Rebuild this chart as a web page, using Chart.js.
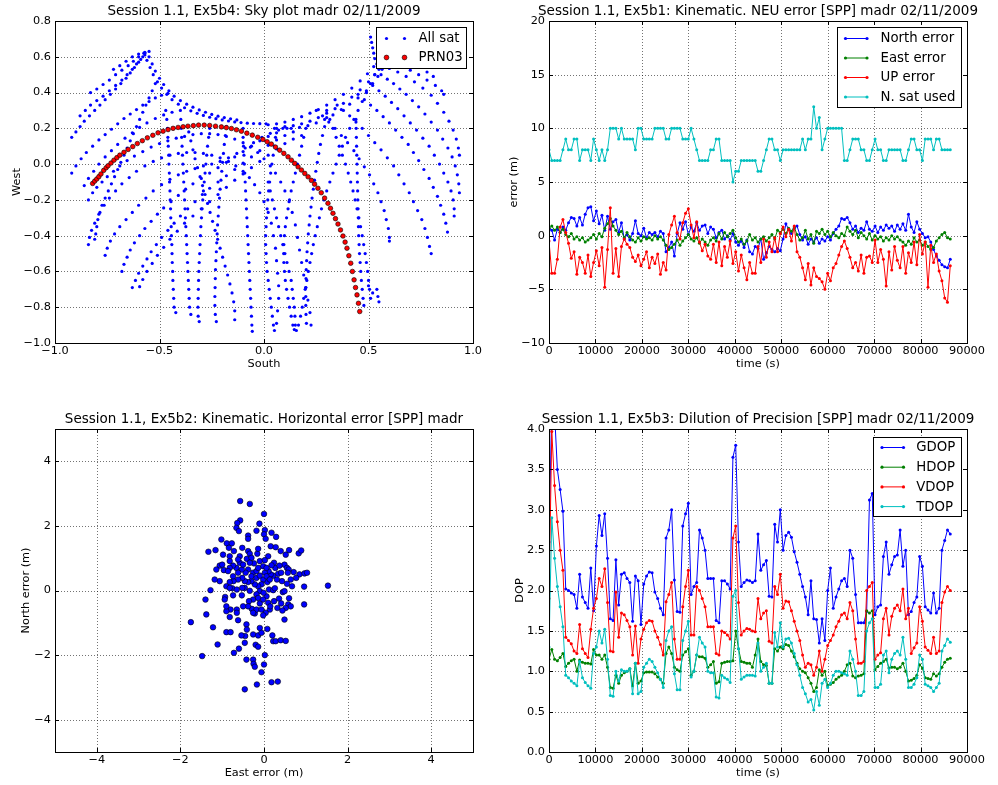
<!DOCTYPE html>
<html>
<head>
<meta charset="utf-8">
<script src="https://cdn.jsdelivr.net/npm/chart.js@4.4.1/dist/chart.umd.min.js"></script>
<style>
html, body { margin: 0; padding: 0; background: #fff; }
body { width: 998px; height: 785px; position: relative; overflow: hidden; }
canvas { position: absolute; }
</style>
</head>
<body>
<canvas id="sky" width="499" height="392" style="left:0;top:0"></canvas>
<canvas id="neu" width="499" height="392" style="left:499px;top:0"></canvas>
<canvas id="hor" width="499" height="393" style="left:0;top:392px"></canvas>
<canvas id="dop" width="499" height="393" style="left:499px;top:392px"></canvas>
<script>
// ---- tick values ----
const skyXTicks = [-1.0, -0.5, 0.0, 0.5, 1.0];
const skyYTicks = [-1.0, -0.8, -0.6, -0.4, -0.2, 0.0, 0.2, 0.4, 0.6, 0.8];
const timeTicks = [0, 10000, 20000, 30000, 40000, 50000, 60000, 70000, 80000, 90000];
const neuYTicks = [-10, -5, 0, 5, 10, 15, 20];
const horTicks = [-4, -2, 0, 2, 4];
const dopYTicks = [0.0, 0.5, 1.0, 1.5, 2.0, 2.5, 3.0, 3.5, 4.0];

// ---- sky plot: one list of [south, west] per satellite pass ----
const skyTracks = [
  [[-0.92,0.15],[-0.9,0.18],[-0.88,0.21],[-0.86,0.24],[-0.835,0.27],[-0.81,0.3],[-0.785,0.33],[-0.76,0.36],[-0.735,0.39],[-0.71,0.42],[-0.685,0.45],[-0.66,0.48],[-0.64,0.51],[-0.62,0.54],[-0.6,0.57],[-0.58,0.6]],
  [[-0.88,0.27],[-0.855,0.3],[-0.83,0.33],[-0.8,0.355],[-0.77,0.38],[-0.74,0.41],[-0.71,0.44],[-0.68,0.47],[-0.655,0.5],[-0.63,0.53],[-0.61,0.56],[-0.59,0.585],[-0.57,0.61]],
  [[-0.83,0.4],[-0.8,0.42],[-0.77,0.445],[-0.74,0.47],[-0.71,0.5],[-0.68,0.525],[-0.65,0.55],[-0.625,0.575],[-0.6,0.6],[-0.575,0.62]],
  [[-0.72,0.53],[-0.69,0.55],[-0.66,0.575],[-0.63,0.6],[-0.6,0.615],[-0.57,0.625],[-0.55,0.63]],
  [[-0.92,-0.05],[-0.9,-0.01],[-0.875,0.03],[-0.85,0.065],[-0.82,0.1],[-0.79,0.135],[-0.76,0.165],[-0.73,0.195],[-0.7,0.225],[-0.67,0.255],[-0.64,0.28],[-0.61,0.305],[-0.58,0.33],[-0.55,0.35],[-0.52,0.37],[-0.49,0.385],[-0.46,0.395]],
  [[-0.86,-0.12],[-0.84,-0.08],[-0.815,-0.04],[-0.79,0.0],[-0.76,0.04],[-0.73,0.075],[-0.7,0.11],[-0.665,0.145],[-0.63,0.175],[-0.595,0.205],[-0.56,0.23],[-0.52,0.255],[-0.48,0.275],[-0.44,0.29]],
  [[-0.84,-0.2],[-0.82,-0.16],[-0.8,-0.13],[-0.775,-0.1],[-0.75,-0.07],[-0.72,-0.04],[-0.69,-0.01],[-0.655,0.02],[-0.62,0.045],[-0.58,0.07],[-0.54,0.095],[-0.5,0.115],[-0.46,0.13],[-0.42,0.145],[-0.38,0.155],[-0.34,0.165],[-0.3,0.17],[-0.26,0.17],[-0.22,0.165],[-0.18,0.155],[-0.14,0.14],[-0.1,0.12],[-0.065,0.095],[-0.03,0.065],[0.0,0.03],[0.03,-0.01],[0.055,-0.05],[0.08,-0.1],[0.1,-0.15],[0.12,-0.21],[0.135,-0.27],[0.15,-0.34],[0.16,-0.41],[0.17,-0.48],[0.18,-0.55],[0.19,-0.62],[0.2,-0.69],[0.21,-0.76],[0.22,-0.83],[0.225,-0.9]],
  [[-0.84,-0.45],[-0.835,-0.41],[-0.825,-0.37],[-0.81,-0.33],[-0.79,-0.28],[-0.765,-0.23],[-0.74,-0.19],[-0.71,-0.15],[-0.68,-0.11],[-0.645,-0.075],[-0.61,-0.04],[-0.57,-0.01],[-0.53,0.015],[-0.49,0.035],[-0.45,0.05],[-0.41,0.06],[-0.37,0.065],[-0.33,0.065],[-0.29,0.06],[-0.25,0.05],[-0.21,0.035],[-0.17,0.015],[-0.135,-0.01],[-0.1,-0.04],[-0.07,-0.075],[-0.045,-0.115],[-0.02,-0.16],[0.0,-0.21],[0.02,-0.27],[0.035,-0.33],[0.045,-0.4],[0.055,-0.47],[0.06,-0.54],[0.065,-0.61],[0.07,-0.68],[0.07,-0.75],[0.065,-0.82],[0.06,-0.89]],
  [[-0.76,-0.51],[-0.75,-0.47],[-0.735,-0.43],[-0.715,-0.39],[-0.69,-0.35],[-0.66,-0.31],[-0.63,-0.27],[-0.6,-0.23],[-0.565,-0.19],[-0.53,-0.15],[-0.49,-0.115],[-0.45,-0.085],[-0.41,-0.06],[-0.37,-0.04],[-0.33,-0.025],[-0.29,-0.01],[-0.25,0.0],[-0.21,0.015],[-0.17,0.035],[-0.13,0.06],[-0.09,0.09],[-0.05,0.12],[-0.01,0.15],[0.03,0.172],[0.07,0.19],[0.11,0.2]],
  [[-0.68,-0.6],[-0.67,-0.56],[-0.655,-0.52],[-0.64,-0.48],[-0.62,-0.44],[-0.595,-0.4],[-0.57,-0.36],[-0.54,-0.32],[-0.51,-0.28],[-0.48,-0.245],[-0.445,-0.21],[-0.41,-0.175],[-0.375,-0.14],[-0.34,-0.11],[-0.3,-0.08],[-0.26,-0.05],[-0.22,-0.02],[-0.18,0.01],[-0.14,0.04],[-0.1,0.07],[-0.06,0.1],[-0.02,0.13],[0.02,0.155],[0.06,0.175]],
  [[-0.63,-0.69],[-0.615,-0.65],[-0.6,-0.61],[-0.58,-0.57],[-0.56,-0.53],[-0.54,-0.49],[-0.515,-0.45],[-0.49,-0.41],[-0.46,-0.37],[-0.43,-0.33],[-0.4,-0.29],[-0.365,-0.25],[-0.33,-0.21],[-0.295,-0.17],[-0.26,-0.135],[-0.22,-0.1],[-0.18,-0.065],[-0.14,-0.03],[-0.1,0.005],[-0.06,0.04],[-0.02,0.075],[0.02,0.105],[0.06,0.135],[0.1,0.16],[0.14,0.18]],
  [[-0.595,-0.685],[-0.58,-0.645],[-0.56,-0.6],[-0.535,-0.555],[-0.51,-0.51],[-0.48,-0.465],[-0.45,-0.42],[-0.415,-0.375],[-0.38,-0.33],[-0.34,-0.29],[-0.3,-0.25],[-0.26,-0.21],[-0.22,-0.17],[-0.18,-0.13],[-0.14,-0.09],[-0.1,-0.055],[-0.06,-0.02],[-0.02,0.015],[0.02,0.05],[0.06,0.085],[0.1,0.115],[0.14,0.14],[0.18,0.16]],
  [[-0.52,0.45],[-0.535,0.41],[-0.55,0.37],[-0.565,0.33],[-0.58,0.29],[-0.595,0.25],[-0.61,0.21],[-0.625,0.17],[-0.64,0.13],[-0.655,0.09],[-0.67,0.05],[-0.685,0.01],[-0.7,-0.03],[-0.715,-0.07],[-0.73,-0.11],[-0.745,-0.15],[-0.76,-0.19],[-0.775,-0.23],[-0.785,-0.27],[-0.795,-0.31],[-0.8,-0.35],[-0.805,-0.39],[-0.81,-0.42]],
  [[-0.47,0.3],[-0.465,0.25],[-0.462,0.2],[-0.46,0.15],[-0.458,0.1],[-0.456,0.05],[-0.455,0.0],[-0.453,-0.05],[-0.452,-0.1],[-0.45,-0.15],[-0.449,-0.2],[-0.447,-0.25],[-0.446,-0.3],[-0.444,-0.35],[-0.443,-0.4],[-0.441,-0.45],[-0.44,-0.5],[-0.439,-0.55],[-0.437,-0.6],[-0.436,-0.65],[-0.434,-0.7],[-0.432,-0.75],[-0.43,-0.8],[-0.422,-0.83]],
  [[-0.4,0.3],[-0.398,0.25],[-0.396,0.2],[-0.394,0.15],[-0.392,0.1],[-0.39,0.05],[-0.388,0.0],[-0.386,-0.05],[-0.384,-0.1],[-0.382,-0.15],[-0.38,-0.2],[-0.378,-0.25],[-0.376,-0.3],[-0.374,-0.35],[-0.372,-0.4],[-0.37,-0.45],[-0.368,-0.5],[-0.366,-0.55],[-0.364,-0.6],[-0.362,-0.65],[-0.36,-0.7],[-0.358,-0.75],[-0.356,-0.8],[-0.35,-0.84]],
  [[-0.26,0.2],[-0.265,0.15],[-0.27,0.1],[-0.274,0.05],[-0.278,0.0],[-0.282,-0.05],[-0.286,-0.1],[-0.29,-0.15],[-0.293,-0.2],[-0.296,-0.25],[-0.299,-0.3],[-0.302,-0.35],[-0.304,-0.4],[-0.306,-0.45],[-0.308,-0.5],[-0.31,-0.55],[-0.312,-0.6],[-0.313,-0.65],[-0.314,-0.7],[-0.315,-0.75],[-0.316,-0.8],[-0.315,-0.85],[-0.31,-0.88]],
  [[-0.18,0.21],[-0.185,0.16],[-0.19,0.11],[-0.194,0.06],[-0.198,0.01],[-0.202,-0.04],[-0.206,-0.09],[-0.21,-0.14],[-0.213,-0.19],[-0.216,-0.24],[-0.219,-0.29],[-0.222,-0.34],[-0.224,-0.39],[-0.226,-0.44],[-0.228,-0.49],[-0.23,-0.54],[-0.232,-0.59],[-0.233,-0.64],[-0.234,-0.69],[-0.235,-0.74],[-0.235,-0.79],[-0.233,-0.84],[-0.228,-0.88]],
  [[-0.36,0.18],[-0.35,0.13],[-0.34,0.08],[-0.33,0.03],[-0.318,-0.02],[-0.306,-0.07],[-0.294,-0.12],[-0.282,-0.17],[-0.27,-0.22],[-0.258,-0.27],[-0.246,-0.32],[-0.234,-0.37],[-0.222,-0.42],[-0.21,-0.47],[-0.198,-0.52],[-0.186,-0.57],[-0.174,-0.62],[-0.163,-0.67],[-0.153,-0.72],[-0.145,-0.77],[-0.14,-0.82],[-0.14,-0.87]],
  [[-0.1,0.2],[-0.1,0.15],[-0.098,0.1],[-0.096,0.05],[-0.094,0.0],[-0.092,-0.05],[-0.09,-0.1],[-0.088,-0.15],[-0.086,-0.2],[-0.084,-0.25],[-0.082,-0.3],[-0.08,-0.35],[-0.078,-0.4],[-0.076,-0.45],[-0.074,-0.5],[-0.072,-0.55],[-0.07,-0.6],[-0.068,-0.65],[-0.066,-0.7],[-0.064,-0.75],[-0.062,-0.8],[-0.06,-0.85],[-0.058,-0.9],[-0.056,-0.935]],
  [[0.06,0.2],[0.055,0.15],[0.05,0.1],[0.044,0.05],[0.038,0.0],[0.032,-0.05],[0.027,-0.1],[0.022,-0.15],[0.018,-0.2],[0.015,-0.25],[0.012,-0.3],[0.01,-0.35],[0.008,-0.4],[0.008,-0.45],[0.01,-0.5],[0.012,-0.55],[0.015,-0.6],[0.02,-0.65],[0.025,-0.7],[0.03,-0.75],[0.035,-0.8],[0.04,-0.85],[0.045,-0.9],[0.05,-0.93]],
  [[0.02,-0.1],[0.03,-0.15],[0.04,-0.2],[0.05,-0.25],[0.06,-0.3],[0.07,-0.35],[0.08,-0.4],[0.09,-0.45],[0.1,-0.5],[0.11,-0.55],[0.12,-0.6],[0.13,-0.65],[0.135,-0.7],[0.14,-0.75],[0.145,-0.8],[0.148,-0.85],[0.15,-0.9],[0.155,-0.93],[0.165,-0.9],[0.175,-0.85],[0.183,-0.8],[0.19,-0.75],[0.197,-0.7],[0.205,-0.65],[0.212,-0.6],[0.22,-0.55],[0.228,-0.5],[0.236,-0.45],[0.245,-0.4],[0.255,-0.35],[0.265,-0.3],[0.275,-0.25],[0.287,-0.2],[0.3,-0.15],[0.315,-0.1],[0.33,-0.05],[0.345,0.0],[0.36,0.05],[0.375,0.1],[0.39,0.15],[0.41,0.2],[0.43,0.25],[0.45,0.3],[0.47,0.35],[0.49,0.4],[0.51,0.45],[0.53,0.5],[0.55,0.55],[0.57,0.58]],
  [[0.2,0.2],[0.19,0.15],[0.18,0.1],[0.17,0.05],[0.16,0.0],[0.15,-0.05],[0.14,-0.1],[0.13,-0.15],[0.122,-0.2],[0.115,-0.25],[0.108,-0.3],[0.102,-0.35],[0.098,-0.4],[0.095,-0.45],[0.094,-0.5],[0.095,-0.55],[0.098,-0.6],[0.102,-0.65],[0.108,-0.7],[0.115,-0.75],[0.122,-0.8],[0.13,-0.85],[0.138,-0.9],[0.145,-0.925]],
  [[0.3,0.26],[0.29,0.21],[0.28,0.16],[0.27,0.11],[0.262,0.06],[0.255,0.01],[0.248,-0.04],[0.242,-0.09],[0.236,-0.14],[0.23,-0.19],[0.225,-0.24],[0.22,-0.29],[0.216,-0.34],[0.212,-0.39],[0.209,-0.44],[0.206,-0.49],[0.204,-0.54],[0.202,-0.59],[0.201,-0.64],[0.2,-0.69],[0.2,-0.74],[0.2,-0.79],[0.201,-0.84],[0.203,-0.89]],
  [[0.44,0.25],[0.441,0.2],[0.442,0.15],[0.443,0.1],[0.444,0.05],[0.445,0.0],[0.446,-0.05],[0.447,-0.1],[0.448,-0.15],[0.449,-0.2],[0.45,-0.25],[0.451,-0.3],[0.452,-0.35],[0.453,-0.4],[0.455,-0.45],[0.457,-0.5],[0.46,-0.55],[0.463,-0.6],[0.466,-0.65],[0.47,-0.7],[0.474,-0.75],[0.478,-0.79]],
  [[0.3,0.3],[0.315,0.25],[0.33,0.2],[0.345,0.15],[0.36,0.1],[0.375,0.05],[0.39,0.0],[0.403,-0.05],[0.415,-0.1],[0.426,-0.15],[0.436,-0.2],[0.445,-0.25],[0.454,-0.3],[0.462,-0.35],[0.47,-0.4],[0.477,-0.45],[0.484,-0.5],[0.49,-0.55],[0.496,-0.6],[0.5,-0.65],[0.505,-0.7],[0.51,-0.75]],
  [[0.5,-0.68],[0.52,-0.72],[0.54,-0.7],[0.545,-0.74],[0.55,-0.77]],
  [[0.25,0.3],[0.28,0.27],[0.31,0.235],[0.34,0.2],[0.37,0.16],[0.4,0.12],[0.43,0.075],[0.455,0.03],[0.48,-0.015],[0.505,-0.06],[0.525,-0.11],[0.545,-0.16],[0.56,-0.21],[0.575,-0.26],[0.585,-0.31],[0.595,-0.36],[0.6,-0.41],[0.6,-0.43]],
  [[0.35,0.33],[0.38,0.3],[0.41,0.27],[0.44,0.235],[0.47,0.2],[0.5,0.16],[0.53,0.12],[0.56,0.08],[0.59,0.035],[0.62,-0.01],[0.645,-0.06],[0.67,-0.11],[0.695,-0.16],[0.715,-0.21],[0.735,-0.26],[0.755,-0.31],[0.77,-0.36],[0.782,-0.41],[0.792,-0.46],[0.8,-0.5]],
  [[0.45,0.39],[0.48,0.36],[0.51,0.33],[0.54,0.3],[0.57,0.265],[0.6,0.23],[0.63,0.19],[0.66,0.15],[0.69,0.11],[0.715,0.065],[0.74,0.02],[0.765,-0.03],[0.79,-0.08],[0.81,-0.13],[0.83,-0.18],[0.845,-0.23],[0.86,-0.28],[0.87,-0.33],[0.878,-0.38]],
  [[0.52,0.44],[0.55,0.41],[0.58,0.38],[0.61,0.345],[0.64,0.31],[0.67,0.27],[0.7,0.23],[0.73,0.19],[0.76,0.145],[0.79,0.1],[0.815,0.05],[0.84,0.0],[0.86,-0.05],[0.88,-0.1],[0.895,-0.15],[0.905,-0.2],[0.91,-0.25],[0.91,-0.29]],
  [[0.56,0.5],[0.59,0.475],[0.62,0.45],[0.65,0.42],[0.68,0.39],[0.71,0.355],[0.74,0.32],[0.77,0.28],[0.8,0.235],[0.83,0.19],[0.855,0.14],[0.88,0.09],[0.9,0.04],[0.915,-0.01],[0.925,-0.06],[0.932,-0.11],[0.935,-0.16]],
  [[0.57,0.55],[0.6,0.535],[0.64,0.515],[0.68,0.49],[0.72,0.46],[0.76,0.425],[0.8,0.385],[0.83,0.34],[0.86,0.29],[0.885,0.24],[0.905,0.19],[0.92,0.14],[0.93,0.09],[0.935,0.05]],
  [[0.58,0.57],[0.62,0.56],[0.66,0.545],[0.7,0.525],[0.74,0.5],[0.78,0.47],[0.82,0.44],[0.85,0.41],[0.86,0.39]],
  [[0.58,0.6],[0.62,0.59],[0.66,0.575],[0.7,0.56],[0.74,0.54],[0.78,0.515],[0.81,0.49]],
  [[0.51,0.71],[0.515,0.68],[0.52,0.65],[0.525,0.62],[0.53,0.59],[0.54,0.56],[0.55,0.53]],
  [[0.1,0.21],[0.14,0.215],[0.18,0.225],[0.22,0.24],[0.26,0.26],[0.3,0.285],[0.34,0.31],[0.38,0.34],[0.42,0.375],[0.46,0.415],[0.5,0.46],[0.53,0.5],[0.555,0.54],[0.575,0.58],[0.59,0.62]],
  [[0.02,0.22],[0.06,0.225],[0.1,0.235],[0.14,0.25],[0.18,0.265],[0.22,0.285],[0.26,0.305],[0.3,0.33],[0.34,0.36],[0.38,0.39],[0.42,0.425],[0.46,0.465],[0.495,0.505],[0.525,0.545],[0.55,0.585]],
  [[0.05,0.2],[0.09,0.2],[0.13,0.2],[0.17,0.205],[0.21,0.215],[0.25,0.23],[0.29,0.25],[0.33,0.275],[0.37,0.305],[0.41,0.335],[0.45,0.37],[0.49,0.41],[0.52,0.45],[0.545,0.49],[0.565,0.53]],
  [[-0.57,0.62],[-0.56,0.58],[-0.545,0.54],[-0.53,0.5],[-0.51,0.46],[-0.49,0.425],[-0.465,0.39],[-0.44,0.36],[-0.41,0.335],[-0.38,0.315],[-0.35,0.298],[-0.32,0.284],[-0.29,0.272],[-0.26,0.262],[-0.23,0.254],[-0.2,0.247],[-0.17,0.241],[-0.14,0.236],[-0.11,0.232],[-0.08,0.229],[-0.05,0.227],[-0.02,0.226],[0.01,0.225]],
  [[-0.55,0.6],[-0.535,0.56],[-0.52,0.52],[-0.5,0.48],[-0.48,0.445],[-0.455,0.41],[-0.43,0.38],[-0.4,0.355],[-0.37,0.335],[-0.34,0.318],[-0.31,0.303],[-0.28,0.29],[-0.25,0.278],[-0.22,0.268],[-0.19,0.26],[-0.16,0.253],[-0.13,0.247]]
];

const prn03Track = [
  [-0.82,-0.108],[-0.81,-0.095],[-0.8,-0.083],[-0.79,-0.07],[-0.78,-0.055],[-0.767,-0.035],[-0.755,-0.02],[-0.746,-0.009],
  [-0.732,0.006],[-0.718,0.022],[-0.704,0.036],[-0.69,0.05],[-0.67,0.066],[-0.65,0.082],[-0.628,0.098],[-0.606,0.115],
  [-0.582,0.131],[-0.558,0.147],[-0.532,0.161],[-0.507,0.175],[-0.483,0.184],[-0.459,0.193],[-0.435,0.2],[-0.411,0.205],
  [-0.387,0.209],[-0.364,0.212],[-0.338,0.215],[-0.313,0.218],[-0.286,0.218],[-0.26,0.216],[-0.232,0.212],[-0.204,0.208],
  [-0.18,0.204],[-0.156,0.199],[-0.132,0.192],[-0.108,0.184],[-0.082,0.173],[-0.056,0.162],[-0.03,0.15],[-0.005,0.138],
  [0.015,0.125],[0.035,0.112],[0.055,0.095],[0.075,0.078],[0.095,0.06],[0.115,0.041],[0.131,0.022],[0.147,0.004],
  [0.163,-0.015],[0.179,-0.033],[0.195,-0.052],[0.211,-0.071],[0.227,-0.091],[0.242,-0.112],[0.258,-0.135],[0.274,-0.16],
  [0.29,-0.19],[0.306,-0.219],[0.318,-0.247],[0.33,-0.275],[0.342,-0.305],[0.354,-0.335],[0.366,-0.368],[0.378,-0.402],
  [0.388,-0.436],[0.397,-0.47],[0.406,-0.512],[0.415,-0.554],[0.423,-0.6],[0.431,-0.647],[0.438,-0.69],[0.445,-0.731],
  [0.452,-0.778],[0.458,-0.824]
];

// ---- NEU error, one sample every 600 s ----
const epochStep = 600;
const northErr = [
  0.7, 0.5, -0.4, 0.6, 0.3, 0.8, 0.5, 1.2, 1.7, 1.6,
  0.9, 1.7, 1.0, 2.0, 2.6, 2.7, 1.4, 2.3, 1.1, 1.9,
  0.5, 1.8, 0.6, 1.3, 1.5, 0.3, 1.2, -0.3, 0.1, -0.4,
  0.2, 1.4, 0.2, 0.0, 0.7, -0.2, 0.3, 0.1, 0.3, -0.1,
  0.4, 0.2, -1.5, -1.1, -0.6, -1.9, 0.2, 1.2, 0.6, 1.3,
  0.1, 0.8, 0.4, 1.2, 0.5, 0.9, 1.0, 0.2, 0.8, 0.6,
  -0.2, 0.3, 0.5, -0.3, 0.0, -0.4, 0.2, -0.6, -0.9, -0.5,
  -1.1, -0.4, -1.5, -1.7, -1.0, -1.2, -0.3, -2.2, -1.6, -1.0,
  -1.3, -1.5, -1.2, -1.4, -0.3, 1.1, 0.6, 0.2, 0.7, 0.9,
  0.1, -0.4, -0.1, -0.8, -0.3, -0.6, -0.2, -0.7, -0.3, -0.5,
  -0.1, -0.4, 0.2, 0.6, 0.9, 1.6, 1.5, 1.7, 1.2, 0.6,
  0.9, 0.3, 0.7, 0.5, 1.3, 0.6, 0.4, 0.9, 0.3, 0.8,
  0.5, 1.0, 0.7, 0.9, 0.4, 1.0, 0.6, 1.1, 0.5, 2.0,
  0.8, 0.3, 1.3, 0.6, 0.2, -0.2, -0.1, -0.6, -1.3, -1.9,
  -2.3, -2.7, -2.9, -3.0, -2.2
];
const eastErr = [
  0.7, 0.9, 0.5, 0.8, 0.3, 0.6, 0.1, -0.1, 0.2, -0.3,
  -0.1, -0.4, -0.2, -0.6, -0.4, -0.2, 0.1, -0.3, 0.2, -0.1,
  0.7, 1.1, 1.6, 0.9, 0.5, 0.1, 0.4, -0.2, 0.3, -0.1,
  -0.4, -0.6, -0.2, -0.5, -0.1, -0.3, -0.2, -0.4, 0.0, -0.3,
  -0.1, -0.4, -0.9, -1.3, -1.1, -0.8, -0.4, -0.9, -0.5, -0.2,
  0.1, -0.3, -0.5, -0.2, -0.7, -0.3, -0.6, -0.9, -0.4, -0.2,
  -0.5, 0.2, -0.3, 0.3, -0.1, 0.2, 0.5, -0.2, -0.6, -0.3,
  -0.8, -0.5, 0.1, -0.4, -0.2, -0.6, -0.3, -0.1, -0.5, -0.2,
  0.1, -0.3, 0.5, 0.3, 0.6, 0.2, 0.7, 0.4, 0.8, 0.1,
  -0.4, -0.2, 0.5, -0.3, 0.1, -0.7, 0.4, 0.2, 0.6, 0.1,
  0.4, -0.1, 0.3, 0.0, -0.2, 0.2, 0.0, 0.8, 0.4, 0.1,
  0.5, -0.2, 0.3, 0.0, -0.3, 0.2, -0.4, 0.0, -0.3, -0.1,
  -0.5, -0.2, -0.4, 0.0, -0.3, -0.1, -0.4, -0.6, -0.9, -0.5,
  -0.8, -0.2, -0.6, -0.4, -0.9, -0.6, -1.0, -1.3, -1.1, -0.5,
  -0.2, 0.1, 0.3, -0.2, -0.3
];
const upErr = [
  -0.5, -3.5, -3.5, -2.2, 0.8, 1.5, 0.3, -0.7, -2.1, -1.5,
  -3.6, -2.0, -2.5, -3.5, -1.8, -3.8, -2.5, -1.4, -2.8, -1.1,
  -4.8, -1.3, 2.6, -3.5, -1.2, -3.8, -1.0, -0.3, -0.8, -1.1,
  -2.0, -2.4, -1.8, -2.8, -2.2, -1.5, -3.0, -2.0, -2.6, -1.7,
  -3.6, -2.5, -3.2, 0.1, 1.0, 1.8, 0.3, -0.3, 1.2, 2.1,
  2.5, 1.0, -0.2, 1.3, -0.6, -1.4, -0.8, -1.9, -2.2, -0.8,
  -2.5, -0.6, -2.8, -1.0, -2.0, -0.5, -2.6, -1.5, -3.3, -1.8,
  -3.0, -4.1, -2.5, -3.5, -3.5, -1.0, -2.5, -0.3, -2.0, -0.6,
  -1.5, -0.2, -1.5, 0.2, 0.8, -0.1, 0.6, -0.5, 0.9, -1.5,
  -2.0, -3.0, -4.1, -2.6, -4.6, -3.0, -3.8, -4.0, -4.3, -5.0,
  -3.5, -4.2, -3.0, -2.6, -1.8, -1.0, -0.5, -1.2, -2.0, -3.0,
  -2.5, -3.3, -1.8, -3.5, -2.0, -1.9, -2.5, -0.4, -2.5, -1.3,
  -2.2, -4.7, -1.5, -3.2, -1.0, -2.3, -3.0, -1.0, -3.5, -1.6,
  -2.5, -0.6, -2.7, 0.1, -1.7, -0.6, -4.8, -0.9, -2.5, -1.7,
  -3.3, -4.2, -5.8, -6.2, -2.8
];
const satsUsed = [
  8, 7, 7, 7, 7, 8, 9, 8, 8, 9,
  9, 7, 8, 8, 8, 7, 9, 8, 7, 8,
  7, 8, 10, 10, 10, 9, 10, 9, 9, 9,
  9, 8, 10, 10, 9, 9, 9, 9, 10, 10,
  10, 10, 9, 9, 10, 10, 10, 10, 9, 9,
  9, 10, 9, 8, 7, 7, 7, 7, 8, 8,
  9, 9, 7, 7, 7, 7, 5, 6, 6, 7,
  7, 7, 7, 7, 7, 6, 6, 7, 8, 9,
  9, 8, 8, 7, 8, 8, 8, 8, 8, 8,
  8, 9, 8, 9, 9, 12, 10, 11, 8, 9,
  10, 10, 10, 10, 10, 10, 7, 7, 8, 9,
  9, 9, 8, 8, 7, 7, 8, 9, 8, 8,
  7, 7, 8, 8, 8, 8, 8, 7, 7, 8,
  9, 9, 8, 8, 7, 9, 9, 9, 8, 9,
  9, 8, 8, 8, 8
];

// ---- horizontal error scatter: [east, north] ----
const horizErrors = [
  [-0.57,2.77],[-0.34,2.68],[0.0,2.37],[-0.57,2.17],[-0.64,2.09],[-0.11,2.07],[-0.66,1.94],[-0.6,1.84],[-0.38,1.7],[-0.38,1.6],
  [-0.18,1.85],[0.02,1.87],[0.18,1.79],[0.29,1.66],[0.0,1.74],[0.04,1.6],[-1.02,1.58],[-0.89,1.46],[-0.77,1.46],[-0.84,1.32],
  [-1.33,1.2],[-1.16,1.25],[-0.98,1.11],[-0.82,1.06],[-0.58,1.06],[-0.38,1.22],[-0.34,1.14],[-0.16,1.14],[-0.14,1.29],[0.1,1.06],
  [0.16,1.37],[0.28,1.34],[0.4,1.22],[0.52,1.11],[0.6,1.25],[0.83,1.15],[0.89,1.24],[0.49,0.8],[0.55,0.7],[0.71,0.57],
  [0.85,0.5],[0.97,0.53],[1.03,0.55],[0.77,0.39],[0.64,0.34],[1.53,0.15],[0.96,0.12],[0.96,-0.43],[0.58,-0.43],[0.64,-0.49],
  [0.52,-0.54],[0.44,-0.62],[0.49,-0.9],[0.32,-0.54],[0.14,-0.59],[0.04,-0.69],[-0.02,-0.77],[-0.22,-0.71],[-0.1,-1.16],[0.08,-1.19],
  [0.2,-1.39],[0.22,-1.57],[0.28,-1.57],[0.4,-1.54],[0.52,-1.56],[-0.26,-1.36],[-0.14,-1.39],[-0.06,-1.31],[-0.42,-1.05],[-0.41,-1.21],
  [-0.45,-1.41],[-0.54,-1.39],[-0.46,-1.62],[-0.2,-1.68],[-0.14,-1.74],[-0.6,-1.8],[-0.72,-1.93],[0.02,-2.0],[-0.42,-2.14],[-0.26,-2.14],
  [-0.25,-2.27],[-0.22,-2.36],[0.0,-2.29],[-0.06,-2.53],[-0.17,-2.91],[0.18,-2.84],[0.33,-2.82],[-0.46,-3.06],[-1.48,-2.03],[-1.11,-1.67],
  [-0.9,-1.29],[-0.8,-1.29],[-1.22,-1.14],[-1.75,-0.98],[-1.38,-0.74],[-1.4,-0.28],[-1.28,0.01],[-0.82,-0.82],[-0.8,-0.59],[-0.9,-0.64],
  [-0.65,-0.59],[-0.62,-0.92],[-0.65,-0.69],[-0.9,-0.49],[-0.74,-0.15],[-0.93,-0.2],[-0.53,-0.15],[-0.46,0.08],[-0.34,-0.01],[-0.26,-0.28],
  [-0.36,-0.33],[-0.29,-0.57],[-0.18,-0.59],[-0.1,-0.4],[0.06,-0.18],[0.12,0.03],[0.22,0.01],[0.26,0.07],[0.24,-0.33],[0.36,-0.25],
  [0.45,-0.05],[0.49,-0.02],[0.6,-0.24],[0.43,0.29],[0.31,0.34],[0.22,0.46],[0.34,0.52],[0.41,0.55],[0.16,0.5],[0.11,0.6],
  [0.27,0.7],[0.24,0.86],[0.18,0.78],[0.37,0.77],[0.59,0.65],[0.67,0.13],[0.55,0.21],[0.57,0.55],[0.08,0.26],[0.02,0.55],
  [-0.02,0.34],[-0.06,0.19],[-0.14,0.13],[-0.1,-0.02],[-0.01,-0.07],[-0.18,-0.12],[-0.22,0.19],[-0.3,0.29],[-0.38,0.26],[-0.46,0.29],
  [-0.52,0.39],[-0.62,0.34],[-0.73,0.29],[-0.82,0.26],[-0.9,0.13],[-0.76,0.07],[-0.65,0.03],[-0.52,0.08],[-0.26,0.55],[-0.18,0.6],
  [-0.38,0.65],[-0.44,0.55],[-0.53,0.65],[-0.66,0.7],[-0.74,0.77],[-0.82,0.7],[-0.96,0.63],[-1.06,0.77],[-1.14,0.65],[-1.0,0.8],
  [-0.86,0.6],[-0.58,0.86],[-0.41,0.98],[-0.3,1.01],[-0.24,0.84],[-0.1,0.91],[0.02,0.94],[-0.02,0.75],[-0.14,0.7],[0.06,0.7],
  [-0.34,0.86],[-0.5,0.8],[-0.62,0.55],[-0.3,0.44],[-0.18,0.39],[-0.1,0.46],[0.06,0.44],[0.14,0.34],[-0.14,-0.23],[-0.02,-0.28],
  [0.1,-0.38],[-0.38,-0.49],[-0.5,-0.49],[-0.26,-0.69],[-0.06,-0.59],[0.15,-0.49],[0.41,-0.4],[-0.94,-0.28],[-0.82,0.08],[-1.06,0.29],
  [-1.18,0.34],[-0.74,0.44],[-0.82,0.91],[-0.62,0.96],[-0.72,1.22],[-0.52,1.32]
];

// ---- dilution of precision, one sample every 600 s ----
const gdop = [
  2.6, 4.3, 4.2, 3.5, 3.25, 2.98, 2.02, 2.0, 1.97, 1.95,
  1.78, 2.2, 1.92, 1.85, 1.78, 2.28, 1.75, 2.55, 2.93, 2.68,
  2.95, 2.4, 1.65, 1.63, 2.38, 1.82, 2.2, 2.22, 2.15, 2.1,
  1.62, 2.18, 2.12, 1.58, 2.08, 2.18, 2.23, 2.22, 1.98, 1.9,
  1.78, 1.7, 2.65, 2.75, 3.0, 2.13, 1.74, 1.73, 2.8, 2.95,
  3.08, 1.95, 2.05, 2.1, 2.75, 2.65, 2.5, 2.15, 2.15, 2.15,
  1.63, 1.6, 2.12, 2.12, 2.08, 2.02, 3.65, 3.8, 2.6, 2.05,
  2.1, 2.13, 2.12, 2.1, 2.12, 2.7, 2.25, 2.32, 2.37, 1.93,
  1.92, 2.82, 2.6, 3.0, 2.5, 2.68, 2.72, 2.66, 2.48, 2.35,
  2.2, 2.05, 1.92, 1.7, 2.12, 1.65, 1.64, 1.35, 1.65, 1.38,
  2.0, 2.28, 1.78, 1.92, 2.02, 2.12, 2.15, 2.05, 2.5, 2.4,
  1.95, 1.6, 1.6, 1.6, 1.74, 3.12, 3.2, 1.7, 1.8, 1.82,
  2.42, 2.6, 2.2, 2.32, 2.42, 2.44, 2.75, 2.3, 2.5, 1.7,
  1.74, 1.85, 1.92, 2.42, 2.3, 1.8, 1.76, 1.72, 1.97, 1.72,
  1.78, 2.5, 2.62, 2.75, 2.7
];
const hdop = [
  1.15, 1.27, 1.15, 1.13, 1.17, 1.22, 1.06, 1.1, 1.13, 1.15,
  1.0, 1.14, 1.11, 1.1, 1.1, 1.09, 1.27, 1.2, 1.2, 1.15,
  1.2, 1.05, 0.8, 0.79, 0.95, 0.85, 0.95, 0.98, 1.0, 1.03,
  0.82, 1.1, 0.85, 0.88, 0.98, 0.99, 0.99, 0.99, 0.97, 0.93,
  0.9, 0.85, 1.22, 1.3, 1.22, 1.05, 1.02, 1.0, 1.2, 1.24,
  1.28, 0.95, 1.0, 1.2, 1.18, 1.18, 1.16, 1.05, 1.08, 1.12,
  0.85, 0.87, 1.1, 1.11, 1.12, 1.12, 1.13, 1.5, 1.28, 1.12,
  1.11, 1.1, 1.1, 1.05, 1.2, 1.4, 1.12, 1.08, 1.07, 0.85,
  0.85, 1.28, 1.25, 1.3, 1.28, 1.33, 1.32, 1.25, 1.18, 1.1,
  1.03, 1.0, 0.98, 0.92, 0.85, 0.75, 0.8, 1.02, 0.95, 1.0,
  0.82, 0.84, 0.86, 0.9, 0.93, 0.95, 1.0, 1.08, 1.1, 0.94,
  0.92, 0.94, 0.95, 0.97, 1.75, 1.72, 1.75, 1.02, 1.06, 1.1,
  1.12, 1.15, 1.04, 1.05, 1.05, 1.03, 1.05, 1.1, 1.0, 0.88,
  0.89, 0.91, 0.95, 1.08, 1.04, 0.92, 0.91, 0.9, 0.97, 0.94,
  0.97, 1.05, 1.11, 1.15, 1.16
];
const vdop = [
  1.9, 3.97, 3.3, 2.85, 2.5, 2.25, 1.42, 1.38, 1.34, 1.25,
  1.22, 1.58, 1.28, 1.22, 1.17, 1.52, 1.78, 1.9, 2.15, 2.05,
  2.27, 1.85, 1.25, 1.24, 1.98, 1.42, 1.72, 1.7, 1.63, 1.55,
  1.2, 1.56, 1.1, 1.4, 1.52, 1.6, 1.63, 1.62, 1.5, 1.42,
  1.33, 1.2, 1.86, 1.95, 2.1, 1.4, 1.15, 1.15, 1.8, 2.05,
  2.25, 1.45, 1.45, 2.05, 2.0, 1.9, 1.8, 1.55, 1.55, 1.55,
  1.22, 1.2, 1.5, 1.48, 1.45, 1.4, 2.65, 2.8, 1.85, 1.45,
  1.5, 1.53, 1.52, 1.5, 1.49, 1.9, 1.65, 1.72, 1.75, 1.37,
  1.35, 2.05, 1.95, 2.2, 1.78, 1.87, 1.86, 1.75, 1.62, 1.5,
  1.38, 1.2, 1.05, 1.1, 1.08, 0.95, 1.05, 1.25, 1.0, 1.15,
  1.32, 1.38, 1.45, 1.55, 1.62, 1.7, 1.72, 1.65, 1.85, 1.75,
  1.4, 1.1, 1.1, 1.12, 2.0, 2.05, 2.1, 1.15, 1.2, 1.23,
  1.65, 1.78, 1.45, 1.68, 1.78, 1.82, 1.75, 2.02, 1.65, 1.78,
  1.22, 1.29, 1.35, 1.8, 1.62, 1.3, 1.26, 1.22, 1.42, 1.22,
  1.25, 1.85, 1.98, 2.05, 2.0
];
const tdop = [
  1.3, 2.9, 2.4, 2.05, 1.8, 1.55, 0.95, 0.92, 0.88, 0.85,
  0.82, 1.12, 0.92, 0.86, 0.82, 0.79, 1.22, 1.3, 1.5, 1.35,
  1.52, 1.15, 0.7, 0.69, 1.0, 0.88, 1.02, 1.0, 1.0, 1.03,
  0.72, 1.1, 0.72, 0.75, 1.05, 1.1, 1.15, 1.12, 1.05, 0.98,
  0.9, 0.8, 1.38, 1.5, 1.55, 0.97, 0.77, 0.77, 1.38, 1.5,
  1.62, 0.93, 1.0, 1.2, 1.42, 1.35, 1.3, 1.0, 0.98, 0.98,
  0.68, 0.67, 0.95, 0.92, 0.9, 0.86, 1.93, 2.0, 1.28, 0.9,
  0.93, 0.95, 0.95, 0.95, 0.94, 1.35, 1.0, 1.05, 1.1, 0.85,
  0.85, 1.48, 1.3, 1.6, 1.3, 1.4, 1.41, 1.35, 1.22, 1.08,
  0.95, 0.8, 0.72, 0.62, 0.65, 0.52, 0.75, 0.58, 0.85, 0.9,
  0.8, 0.85, 0.95, 1.0, 1.0, 0.98, 0.97, 0.95, 1.25, 1.15,
  1.0, 0.7, 0.7, 0.75, 1.5, 1.6, 1.65, 0.8, 0.8, 0.84,
  1.2, 1.25, 0.98, 1.15, 1.22, 1.25, 1.2, 1.42, 1.15, 0.8,
  0.8, 0.84, 0.92, 1.2, 1.15, 0.84, 0.82, 0.8, 0.75, 0.8,
  0.85, 1.25, 1.32, 1.4, 1.36
];

// ---------------------------------------------------------------
const FONT = '"DejaVu Sans", "Liberation Sans", sans-serif';
const BLUE = '#0000ff', GREEN = '#008000', RED = '#ff0000', CYAN = '#00bfbf';
const minus = s => s.replace('-', '\u2212');
const oneDecimal = v => v.toFixed(1);
const plain = v => String(v);
const times = northErr.map((_, i) => i * epochStep);
const series = (vals) => vals.map((v, i) => ({ x: times[i], y: v }));
const pairs = (list) => list.map(([x, y]) => ({ x, y }));

function decor(spec) {
  return {
    id: 'decor',
    beforeDatasetsDraw(chart) {
      const { ctx, chartArea: a, scales: { x, y } } = chart;
      ctx.save();
      ctx.strokeStyle = 'rgba(0,0,0,0.55)';
      ctx.lineWidth = 1;
      ctx.setLineDash([1, 2]);
      ctx.beginPath();
      spec.xTicks.forEach(v => {
        const px = Math.round(x.getPixelForValue(v)) + 0.5;
        if (px < a.left + 2 || px > a.right - 2) return;
        ctx.moveTo(px, a.top); ctx.lineTo(px, a.bottom);
      });
      spec.yTicks.forEach(v => {
        const py = Math.round(y.getPixelForValue(v)) + 0.5;
        if (py < a.top + 2 || py > a.bottom - 2) return;
        ctx.moveTo(a.left, py); ctx.lineTo(a.right, py);
      });
      ctx.stroke();
      ctx.restore();
    },
    afterDraw(chart) {
      const { ctx, chartArea: a, scales: { x, y } } = chart;
      ctx.save();
      ctx.strokeStyle = '#000';
      ctx.lineWidth = 1;
      // ticks pointing inwards on all four sides
      ctx.beginPath();
      spec.xTicks.forEach(v => {
        const px = Math.round(x.getPixelForValue(v)) + 0.5;
        ctx.moveTo(px, a.bottom); ctx.lineTo(px, a.bottom - 4);
        ctx.moveTo(px, a.top); ctx.lineTo(px, a.top + 4);
      });
      spec.yTicks.forEach(v => {
        const py = Math.round(y.getPixelForValue(v)) + 0.5;
        ctx.moveTo(a.left, py); ctx.lineTo(a.left + 4, py);
        ctx.moveTo(a.right, py); ctx.lineTo(a.right - 4, py);
      });
      ctx.stroke();
      ctx.strokeRect(a.left + 0.5, a.top + 0.5, a.right - a.left, a.bottom - a.top);

      ctx.fillStyle = '#000';
      ctx.font = `11.3px ${FONT}`;
      ctx.textAlign = 'center'; ctx.textBaseline = 'middle';
      spec.xTicks.forEach(v => ctx.fillText(minus(spec.xFmt(v)), x.getPixelForValue(v), a.bottom + 8.5));
      ctx.textAlign = 'right';
      spec.yTicks.forEach(v => ctx.fillText(minus(spec.yFmt(v)), a.left - 4, y.getPixelForValue(v)));

      ctx.textAlign = 'center';
      ctx.fillText(spec.xLabel, (a.left + a.right) / 2, a.bottom + 21);
      ctx.save();
      ctx.translate(a.left + spec.yLabelDx, (a.top + a.bottom) / 2);
      ctx.rotate(-Math.PI / 2);
      ctx.fillText(spec.yLabel, 0, 0);
      ctx.restore();

      ctx.font = `13.5px ${FONT}`;
      ctx.fillText(spec.title, (a.left + a.right) / 2, a.top - 10);

      if (spec.legend) drawLegend(ctx, a, spec.legend);
      ctx.restore();
    }
  };
}

function drawMarker(ctx, kind, color, px, py) {
  ctx.beginPath();
  if (kind === 'dot') {
    ctx.arc(px, py, 1.6, 0, Math.PI * 2);
    ctx.fillStyle = color; ctx.fill();
  } else {
    ctx.arc(px, py, 2.4, 0, Math.PI * 2);
    ctx.fillStyle = color; ctx.fill();
    ctx.lineWidth = 0.6; ctx.strokeStyle = '#000'; ctx.stroke();
  }
}

function drawLegend(ctx, a, lg) {
  const bx = Math.round(a.right - lg.right - lg.w) + 0.5;
  const by = Math.round(a.top + lg.top) + 0.5;
  ctx.fillStyle = '#fff';
  ctx.fillRect(bx, by, lg.w, lg.h);
  ctx.strokeStyle = '#000'; ctx.lineWidth = 1;
  ctx.strokeRect(bx, by, lg.w, lg.h);
  ctx.font = `13.3px ${FONT}`;
  ctx.textAlign = 'left'; ctx.textBaseline = 'middle';
  lg.items.forEach((it, i) => {
    const ry = by + lg.row0 + i * lg.rowGap;
    if (lg.line) {
      ctx.beginPath();
      ctx.moveTo(bx + lg.x0, ry); ctx.lineTo(bx + lg.x1, ry);
      ctx.strokeStyle = it.color; ctx.lineWidth = 1; ctx.stroke();
    }
    drawMarker(ctx, it.marker, it.color, bx + lg.x0, ry);
    drawMarker(ctx, it.marker, it.color, bx + lg.x1, ry);
    ctx.fillStyle = '#000';
    ctx.fillText(it.label, bx + lg.tx, ry + 0.5);
  });
}

function makeChart(id, spec, datasets) {
  return new Chart(document.getElementById(id), {
    type: 'scatter',
    data: { datasets },
    plugins: [decor(spec)],
    options: {
      responsive: false,
      animation: false,
      devicePixelRatio: 1,
      layout: { padding: { left: 0, top: spec.padTop, right: spec.padRight, bottom: 0 } },
      plugins: { legend: { display: false }, tooltip: { enabled: false }, title: { display: false } },
      scales: {
        x: {
          type: 'linear', min: spec.xMin, max: spec.xMax,
          ticks: { display: false }, grid: { display: false }, border: { display: false },
          afterFit: s => { s.height = spec.xAxisH; }
        },
        y: {
          type: 'linear', min: spec.yMin, max: spec.yMax,
          ticks: { display: false }, grid: { display: false }, border: { display: false },
          afterFit: s => { s.width = spec.yAxisW; }
        }
      }
    }
  });
}

const lineSet = (label, vals, color, order) => ({
  label, data: series(vals), showLine: true, order,
  borderColor: color, borderWidth: 1, tension: 0,
  pointRadius: 1.5, pointBackgroundColor: color, pointBorderWidth: 0
});

// Sky plot
makeChart('sky', {
  title: 'Session 1.1, Ex5b4: Sky plot madr 02/11/2009', xLabel: 'South', yLabel: 'West', yLabelDx: -38,
  xMin: -1, xMax: 1, yMin: -1, yMax: 0.8, xTicks: skyXTicks, yTicks: skyYTicks, xFmt: oneDecimal, yFmt: oneDecimal,
  padTop: 21, padRight: 26, yAxisW: 55, xAxisH: 49,
  legend: { right: 7, top: 6, w: 90, h: 41, row0: 11, rowGap: 19, x0: 10, x1: 28, tx: 42, line: false,
    items: [{ label: 'All sat', color: BLUE, marker: 'dot' }, { label: 'PRN03', color: RED, marker: 'circle' }] }
}, [
  { label: 'All sat', data: pairs(skyTracks.flat()), order: 1,
    pointRadius: 1.6, pointBackgroundColor: BLUE, pointBorderWidth: 0 },
  { label: 'PRN03', data: pairs(prn03Track), order: 0,
    pointRadius: 2.3, pointBackgroundColor: RED, pointBorderColor: '#000', pointBorderWidth: 0.6 }
]);

// NEU error
makeChart('neu', {
  title: 'Session 1.1, Ex5b1: Kinematic. NEU error [SPP] madr 02/11/2009', xLabel: 'time (s)', yLabel: 'error (m)', yLabelDx: -35,
  xMin: 0, xMax: 90000, yMin: -10, yMax: 20, xTicks: timeTicks, yTicks: neuYTicks, xFmt: plain, yFmt: plain,
  padTop: 21, padRight: 31, yAxisW: 50, xAxisH: 49,
  legend: { right: 6, top: 6, w: 124, h: 80, row0: 11, rowGap: 19.5, x0: 8, x1: 29.5, tx: 43, line: true,
    items: [{ label: 'North error', color: BLUE, marker: 'dot' }, { label: 'East error', color: GREEN, marker: 'dot' },
            { label: 'UP error', color: RED, marker: 'dot' }, { label: 'N. sat used', color: CYAN, marker: 'dot' }] }
}, [
  lineSet('North error', northErr, BLUE, 3),
  lineSet('East error', eastErr, GREEN, 2),
  lineSet('UP error', upErr, RED, 1),
  lineSet('N. sat used', satsUsed, CYAN, 0)
]);

// Horizontal error
makeChart('hor', {
  title: 'Session 1.1, Ex5b2: Kinematic. Horizontal error [SPP] madr', xLabel: 'East error (m)', yLabel: 'North error (m)', yLabelDx: -28.5,
  xMin: -5, xMax: 5, yMin: -5, yMax: 5, xTicks: horTicks, yTicks: horTicks, xFmt: plain, yFmt: plain,
  padTop: 37, padRight: 26, yAxisW: 55, xAxisH: 33
}, [
  { label: 'horizontal', data: pairs(horizErrors),
    pointRadius: 2.8, pointBackgroundColor: BLUE, pointBorderColor: '#000', pointBorderWidth: 0.6 }
]);

// DOP
makeChart('dop', {
  title: 'Session 1.1, Ex5b3: Dilution of Precision [SPP] madr 02/11/2009', xLabel: 'time (s)', yLabel: 'DOP', yLabelDx: -29,
  xMin: 0, xMax: 90000, yMin: 0, yMax: 4, xTicks: timeTicks, yTicks: dopYTicks, xFmt: plain, yFmt: oneDecimal,
  padTop: 37, padRight: 31, yAxisW: 50, xAxisH: 33,
  legend: { right: 6, top: 8, w: 88, h: 79, row0: 10, rowGap: 19.7, x0: 8.5, x1: 30, tx: 42.7, line: true,
    items: [{ label: 'GDOP', color: BLUE, marker: 'dot' }, { label: 'HDOP', color: GREEN, marker: 'dot' },
            { label: 'VDOP', color: RED, marker: 'dot' }, { label: 'TDOP', color: CYAN, marker: 'dot' }] }
}, [
  lineSet('GDOP', gdop, BLUE, 3),
  lineSet('HDOP', hdop, GREEN, 2),
  lineSet('VDOP', vdop, RED, 1),
  lineSet('TDOP', tdop, CYAN, 0)
]);
</script>
</body>
</html>
